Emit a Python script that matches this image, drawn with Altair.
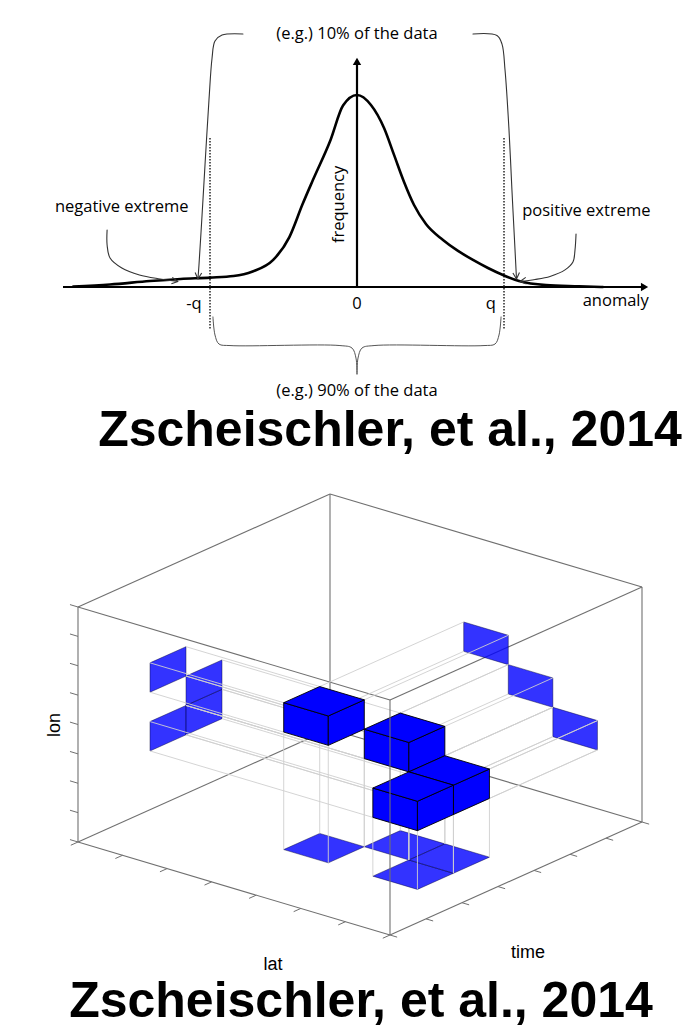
import altair as alt
import numpy as np
import pandas as pd

W, H = 692, 1030

# ---------------- distribution sketch (upper panel) ----------------
# anomaly in units of the quantile q, frequency relative to the mode
curve_anomaly = [-1.93, -1.68, -1.41, -1.20, -1.00, -0.84, -0.71, -0.57, -0.46, -0.37,
                 -0.30, -0.18, -0.095, 0.00, 0.095, 0.184, 0.252, 0.320, 0.388, 0.469,
                 0.585, 0.687, 0.789, 0.891, 0.993, 1.102, 1.286, 1.51, 1.673]
curve_freq = [0.003, 0.013, 0.031, 0.042, 0.049, 0.057, 0.081, 0.141, 0.260, 0.432,
              0.557, 0.766, 0.945, 1.000, 0.948, 0.828, 0.688, 0.547, 0.427, 0.328,
              0.245, 0.188, 0.141, 0.099, 0.0625, 0.031, 0.010, 0.004, 0.000]

quantiles = [-1.0, 1.0]                      # -q and q
tick_labels = ["-q", "0", "q"]
tick_label_anomaly = [-1.11, 0.0, 0.91]

# annotation paths, same (anomaly, frequency) units
bracket_left = [(-0.776, 1.318), (-0.918, 1.312), (-0.966, 1.281), (-0.986, 1.193),
                (-1.007, 0.974), (-1.034, 0.635), (-1.054, 0.375), (-1.075, 0.115),
                (-1.082, 0.042)]
bracket_right = [(0.789, 1.318), (0.952, 1.310), (0.986, 1.266), (1.007, 1.130),
                 (1.034, 0.818), (1.054, 0.505), (1.075, 0.193), (1.085, 0.042)]
arrow_negative = [(-1.70, 0.297), (-1.70, 0.219), (-1.68, 0.151), (-1.60, 0.099),
                  (-1.48, 0.0625), (-1.34, 0.042), (-1.218, 0.029)]
arrow_positive = [(1.49, 0.276), (1.483, 0.193), (1.469, 0.130), (1.415, 0.089),
                  (1.313, 0.055), (1.211, 0.039), (1.109, 0.029)]
brace_left = [(-0.980, -0.156), (-0.966, -0.250), (-0.939, -0.297), (-0.864, -0.305),
              (-0.116, -0.305), (-0.034, -0.318), (-0.007, -0.370), (0.0, -0.453)]
brace_right = [(-a, f) for a, f in brace_left]

# ---------------- space-time extreme event (lower panel) ----------------
# grid cells (lat, time, lon) belonging to the event
event_cells = [(3, 2, 4), (4, 3, 3), (5, 3, 2), (5, 2, 2)]
n_lat, n_time, n_lon = 7, 7, 8

title_text = "Zscheischler, et al., 2014"

# ---------------- layout of the two panels on the canvas ----------------
TOP_X0, TOP_Y0, Q_PX, F_PX = 357.0, 287.0, 147.0, 192.0
BOX_X0, BOX_Y0 = 78.0, 842.0
LAT_STEP = (312.0 / n_lat, 93.0 / n_lat)
TIME_STEP = (252.0 / n_time, -113.0 / n_time)
LON_STEP = (0.0, -235.0 / n_lon)


def top_xy(a, f):
    return TOP_X0 + a * Q_PX, TOP_Y0 - f * F_PX


def box_xy(la, ti, lo):
    return (BOX_X0 + la * LAT_STEP[0] + ti * TIME_STEP[0] + lo * LON_STEP[0],
            BOX_Y0 + la * LAT_STEP[1] + ti * TIME_STEP[1] + lo * LON_STEP[1])


xs = alt.Scale(domain=[0, W], nice=False, zero=False)
ys = alt.Scale(domain=[0, H], nice=False, zero=False, reverse=True)


def X():
    return alt.X("x:Q", scale=xs, axis=None)


def Y():
    return alt.Y("y:Q", scale=ys, axis=None)


def segments(rows, color, width, dash=None, opacity=1.0):
    df = pd.DataFrame(rows, columns=["x", "y", "x2", "y2"])
    kw = dict(color=color, strokeWidth=width, opacity=opacity)
    if dash:
        kw["strokeDash"] = dash
    return alt.Chart(df).mark_rule(**kw).encode(x=X(), y=Y(), x2="x2:Q", y2="y2:Q")


def path(pts, color, width, interp="linear"):
    df = pd.DataFrame({"k": range(len(pts)),
                       "x": [p[0] for p in pts], "y": [p[1] for p in pts]})
    return alt.Chart(df).mark_line(color=color, strokeWidth=width, interpolate=interp,
                                   strokeCap="round", strokeJoin="round").encode(
        x=X(), y=Y(), order="k:Q")


def polygons(polys, fill, stroke, width, fill_opacity=1.0, stroke_opacity=1.0):
    rows = []
    for i, pts in enumerate(polys):
        for k, (x, y) in enumerate(list(pts) + [pts[0]]):
            rows.append(dict(pid=f"p{i:03d}", k=k, x=x, y=y))
    return alt.Chart(pd.DataFrame(rows)).mark_line(
        filled=True, color=fill, stroke=stroke, strokeWidth=width,
        fillOpacity=fill_opacity, strokeOpacity=stroke_opacity, strokeJoin="round"
    ).encode(x=X(), y=Y(), detail="pid:N", order="k:Q")


def label(txt, x, y, size, font="Open Sans", weight="normal", angle=0,
          align="center", baseline="alphabetic", color="#000000"):
    df = pd.DataFrame({"x": [x], "y": [y], "t": [txt]})
    return alt.Chart(df).mark_text(font=font, fontSize=size, fontWeight=weight,
                                   angle=angle, align=align, baseline=baseline,
                                   color=color).encode(x=X(), y=Y(), text="t:N")


def arrow_head(pts, length=7.0, spread=28.0):
    (x0, y0), (x1, y1) = pts[-2], pts[-1]
    d = np.array([x1 - x0, y1 - y0])
    d = d / np.linalg.norm(d)
    rows = []
    for s in (spread, -spread):
        r = np.radians(s)
        rot = np.array([d[0] * np.cos(r) - d[1] * np.sin(r), d[0] * np.sin(r) + d[1] * np.cos(r)])
        rows.append((x1, y1, x1 - length * rot[0], y1 - length * rot[1]))
    return rows


layers = []

# ================= upper panel =================
axis_left, axis_right = top_xy(-2.0, 0)[0], top_xy(1.99, 0)[0]
layers.append(segments([(axis_left, TOP_Y0, axis_right - 6, TOP_Y0)], "#000000", 2.2))
layers.append(segments([(TOP_X0, TOP_Y0, TOP_X0, top_xy(0, 1.17)[1])], "#000000", 2.2))
tri = pd.DataFrame({"x": [axis_right - 5, TOP_X0], "y": [TOP_Y0, top_xy(0, 1.175)[1]],
                    "s": ["triangle-right", "triangle-up"]})
layers.append(alt.Chart(tri).mark_point(filled=True, color="#000000", size=70, opacity=1).encode(
    x=X(), y=Y(), shape=alt.Shape("s:N", scale=None)))

# dotted quantile lines
dots = []
for q in quantiles:
    x, y1 = top_xy(q, 0.776)
    _, y2 = top_xy(q, -0.224)
    dots.append((x, y1, x, y2))
layers.append(segments(dots, "#333333", 1.6, dash=[1.5, 1.5]))

# the distribution
curve_pts = [top_xy(a, f) for a, f in zip(curve_anomaly, curve_freq)]
layers.append(path(curve_pts, "#000000", 2.6, "monotone"))

# brackets and arrows
for shape in (bracket_left, bracket_right, arrow_negative, arrow_positive):
    pts = [top_xy(a, f) for a, f in shape]
    layers.append(path(pts, "#333333", 1.1, "catmull-rom"))
    layers.append(segments(arrow_head(pts), "#333333", 1.1))
for shape in (brace_left, brace_right):
    pts = [top_xy(a, f) for a, f in shape]
    layers.append(path(pts, "#555555", 1.0, "catmull-rom"))

# texts of the upper panel
fs = 16.5
x, y = top_xy(0, 1.29)
layers.append(label("(e.g.) 10% of the data", x, y, fs))
x, y = top_xy(0, -0.57)
layers.append(label("(e.g.) 90% of the data", x, y, fs))
x, y = top_xy(-1.6, 0.39)
layers.append(label("negative extreme", x, y, fs))
x, y = top_xy(1.56, 0.37)
layers.append(label("positive extreme", x, y, fs))
for t, a in zip(tick_labels, tick_label_anomaly):
    x, y = top_xy(a, -0.115)
    layers.append(label(t, x, y, fs))
x, y = top_xy(1.76, -0.1)
layers.append(label("anomaly", x, y, fs))
x, y = top_xy(-0.12, 0.43)
layers.append(label("frequency", x, y, fs, angle=270, baseline="middle"))

# ================= lower panel =================
corners = [(la, ti, lo) for la in (0, n_lat) for ti in (0, n_time) for lo in (0, n_lon)]
edges_back, edges_front = [], []
for i, c1 in enumerate(corners):
    for c2 in corners[i + 1:]:
        if sum(u != v for u, v in zip(c1, c2)) == 1:
            seg = (*box_xy(*c1), *box_xy(*c2))
            if c1[0] == n_lat and c2[0] == n_lat and c1[1] == 0 and c2[1] == 0:
                edges_front.append(seg)
            else:
                edges_back.append(seg)
layers.append(segments(edges_back, "#707070", 1.1))

# ticks
ticks = []
for lo in range(n_lon + 1):
    x, y = box_xy(0, 0, lo)
    ticks.append((x, y, x - 0.18 * LAT_STEP[0], y - 0.18 * LAT_STEP[1]))
for la in range(n_lat + 1):
    x, y = box_xy(la, 0, 0)
    ticks.append((x, y, x - 0.2 * TIME_STEP[0], y - 0.2 * TIME_STEP[1]))
for ti in range(n_time + 1):
    x, y = box_xy(n_lat, ti, 0)
    ticks.append((x, y, x + 0.16 * LAT_STEP[0], y + 0.16 * LAT_STEP[1]))
layers.append(segments(ticks, "#707070", 1.0))

# projections of the event onto the walls and the floor
wall_lt = sorted({(t, v) for a, t, v in event_cells})
wall_tl = sorted({(a, v) for a, t, v in event_cells})
floor_lt = sorted({(a, t) for a, t, v in event_cells})
patches = []
for t, v in wall_lt:
    patches.append([box_xy(0, t, v), box_xy(0, t + 1, v), box_xy(0, t + 1, v + 1), box_xy(0, t, v + 1)])
for a, v in wall_tl:
    patches.append([box_xy(a, n_time, v), box_xy(a + 1, n_time, v),
                    box_xy(a + 1, n_time, v + 1), box_xy(a, n_time, v + 1)])
for a, t in floor_lt:
    patches.append([box_xy(a, t, 0), box_xy(a + 1, t, 0), box_xy(a + 1, t + 1, 0), box_xy(a, t + 1, 0)])
layers.append(polygons(patches, "#0000ff", "#000033", 0.8, fill_opacity=0.8, stroke_opacity=0.55))

# guide lines from each event cell to its projections
guides = []
for a, t, v in event_cells:
    for tt in (t, t + 1):
        for vv in (v, v + 1):
            guides.append((*box_xy(a, tt, vv), *box_xy(0, tt, vv)))
    for aa in (a, a + 1):
        for vv in (v, v + 1):
            guides.append((*box_xy(aa, t + 1, vv), *box_xy(aa, n_time, vv)))
    for aa in (a, a + 1):
        for tt in (t, t + 1):
            guides.append((*box_xy(aa, tt, v), *box_xy(aa, tt, 0)))
layers.append(segments(guides, "#cfcfcf", 0.9))

# the event cells as solid cubes, far ones first
for a, t, v in sorted(event_cells, key=lambda c: c[0] - c[1] + c[2]):
    faces = [
        [box_xy(a, t, v), box_xy(a + 1, t, v), box_xy(a + 1, t, v + 1), box_xy(a, t, v + 1)],
        [box_xy(a + 1, t, v), box_xy(a + 1, t + 1, v), box_xy(a + 1, t + 1, v + 1), box_xy(a + 1, t, v + 1)],
        [box_xy(a, t, v + 1), box_xy(a + 1, t, v + 1), box_xy(a + 1, t + 1, v + 1), box_xy(a, t + 1, v + 1)],
    ]
    layers.append(polygons(faces, "#0000ff", "#000000", 0.9))

layers.append(segments(edges_front, "#707070", 1.1))

# axis names
layers.append(label("lon", 55, 725, 18, font="Liberation Sans", angle=270, baseline="middle"))
layers.append(label("lat", 273, 970, 18, font="Liberation Sans"))
layers.append(label("time", 528, 958, 18, font="Liberation Sans"))

# citations
layers.append(label(title_text, 390, 446, 50, font="Liberation Sans", weight="bold"))
layers.append(label(title_text, 361, 1017, 50, font="Liberation Sans", weight="bold"))

chart = alt.layer(*layers).properties(
    width=W, height=H, padding=0, autosize=alt.AutoSizeParams(type="none"),
    background="white"
).configure_view(stroke=None)

chart.save("out.html", embed_options={"renderer": "svg", "actions": False})
